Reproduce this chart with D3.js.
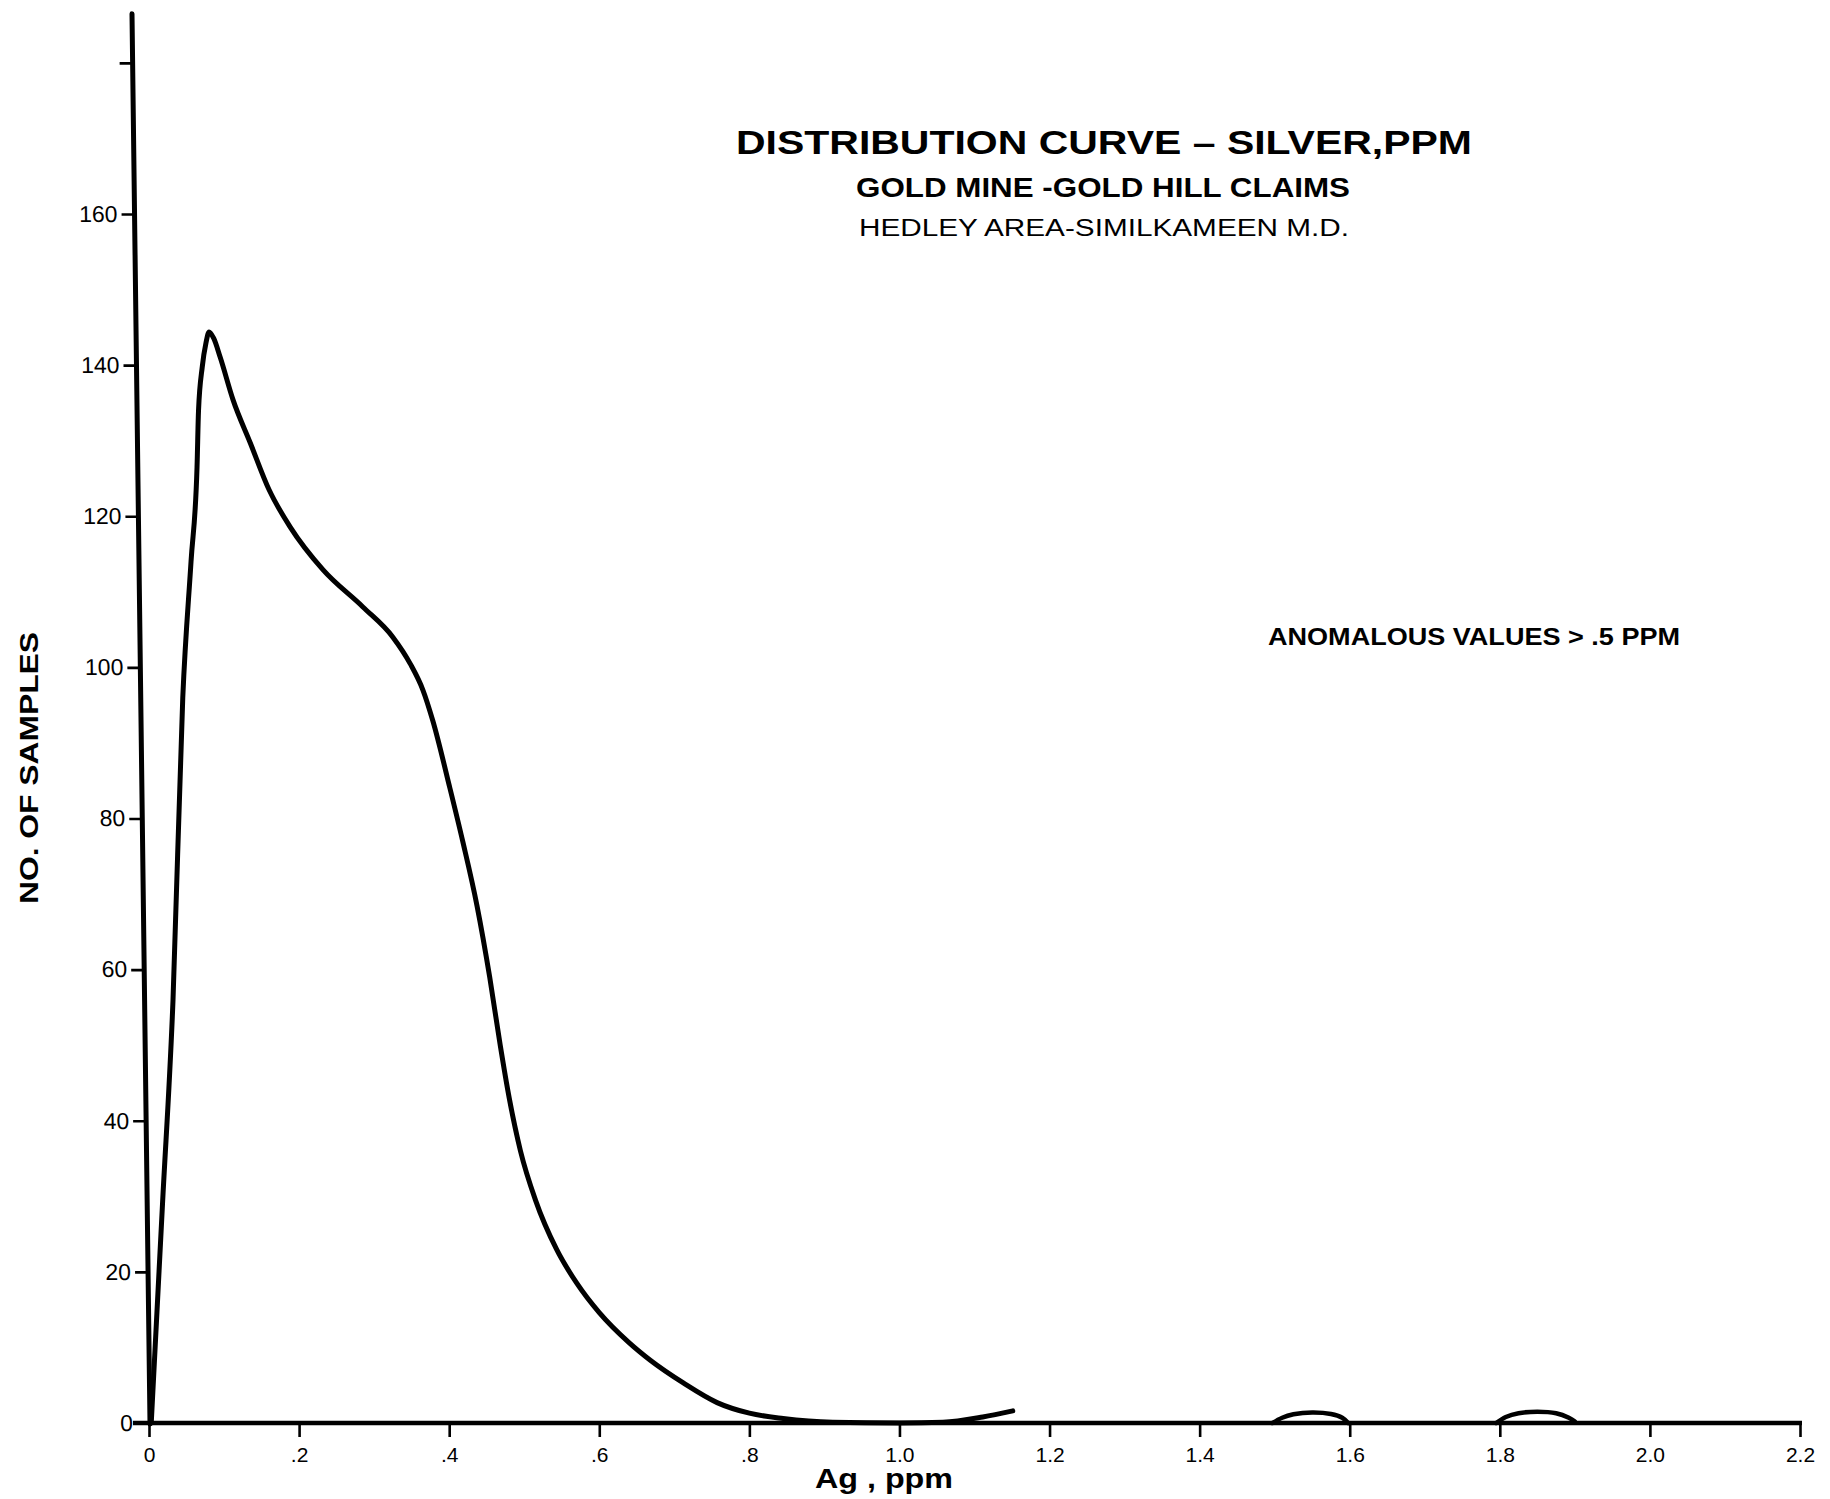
<!DOCTYPE html>
<html><head><meta charset="utf-8">
<script src="https://cdn.jsdelivr.net/npm/d3@7"></script>
<style>body{margin:0;background:#fff}svg{display:block}</style>
</head><body>
<svg id="c" width="1830" height="1499"></svg>
<script>
// ---- data ----
const xTicks = [0, 0.2, 0.4, 0.6, 0.8, 1.0, 1.2, 1.4, 1.6, 1.8, 2.0, 2.2];
const xTickLabels = ["0", ".2", ".4", ".6", ".8", "1.0", "1.2", "1.4", "1.6", "1.8", "2.0", "2.2"];
const yTicks = [0, 20, 40, 60, 80, 100, 120, 140, 160, 180];
const yTickLabels = ["0", "20", "40", "60", "80", "100", "120", "140", "160", ""];
const yAxisTop = 186.5;

// main distribution curve (Ag ppm, number of samples)
const curveAg = [0.003, 0.018, 0.032, 0.045, 0.056, 0.064, 0.066, 0.071, 0.076, 0.080,
  0.086, 0.095, 0.112, 0.135, 0.160, 0.188, 0.232, 0.285, 0.325, 0.348, 0.365, 0.378, 0.401, 0.418, 0.437, 0.454,
  0.468, 0.480, 0.495, 0.515, 0.543, 0.570, 0.600, 0.640, 0.668, 0.712, 0.757, 0.800, 0.845, 0.911, 1.000, 1.058, 1.111, 1.151];
const curveN = [0, 29, 56, 96, 114, 126.5, 134, 139.8, 143, 144.4,
  143.6, 141, 135.4, 129.7, 123.5, 118.6, 112.9, 108, 104, 100.5, 97, 93, 84, 77, 68.5, 59,
  50, 43, 36, 29.5, 23, 18.5, 14.6, 10.6, 8.3, 5.3, 2.7, 1.3, 0.6, 0.1, 0, 0.1, 0.8, 1.6];

// anomalous bumps
const bump1Ag = [1.497, 1.51, 1.525, 1.55, 1.575, 1.59, 1.598];
const bump1N = [0, 0.7, 1.15, 1.4, 1.2, 0.7, 0];
const bump2Ag = [1.795, 1.808, 1.825, 1.85, 1.875, 1.892, 1.90];
const bump2N = [0, 0.8, 1.3, 1.5, 1.3, 0.7, 0.2];

const titleLines = ["DISTRIBUTION  CURVE  –  SILVER,PPM", "GOLD MINE -GOLD HILL CLAIMS", "HEDLEY AREA-SIMILKAMEEN  M.D."];
const noteText = "ANOMALOUS VALUES  > .5 PPM";
const xLabel = "Ag , ppm";
const yLabel = "NO.  OF  SAMPLES";

// ---- drawing ----
const svg = d3.select("#c");
const font = "'Liberation Sans', Arial, sans-serif";
const x = d3.scaleLinear().domain([0, 2.2]).range([149, 1800]);
const y = d3.scaleLinear().domain([0, 160]).range([1423, 214]);

// x axis
const gx = svg.append("g").attr("transform", `translate(0,${y(0)})`)
  .call(d3.axisBottom(x).tickValues(xTicks).tickFormat((d, i) => xTickLabels[i])
    .tickSize(14).tickPadding(10).tickSizeOuter(0));
gx.select(".domain").remove();
gx.selectAll(".tick line").attr("stroke", "#000").attr("stroke-width", 2.6);
gx.selectAll(".tick text").attr("font-family", font).attr("font-size", 21).attr("fill", "#000");
gx.append("line").attr("x1", 133).attr("x2", x(2.2) + 2).attr("y1", 0).attr("y2", 0)
  .attr("stroke", "#000").attr("stroke-width", 4.5);

// y axis (slightly leaning, as drawn in the original)
const k = 18 / 1410;
const gy = svg.append("g").attr("transform", `matrix(1,0,${k},1,${150 - 1424 * k},0)`)
  .call(d3.axisLeft(y).tickValues(yTicks).tickFormat((d, i) => yTickLabels[i])
    .tickSize(13).tickPadding(4).tickSizeOuter(0));
gy.select(".domain").remove();
gy.selectAll(".tick line").attr("stroke", "#000").attr("stroke-width", 2.6);
gy.selectAll(".tick text").attr("font-family", font).attr("font-size", 23).attr("fill", "#000");
gy.append("line").attr("x1", 0).attr("x2", 0).attr("y1", y(0) + 1).attr("y2", y(yAxisTop))
  .attr("stroke", "#000").attr("stroke-width", 5).attr("stroke-linecap", "round");

// curves
const mainLine = d3.line().x(d => x(d[0])).y(d => y(d[1])).curve(d3.curveMonotoneX);
const bumpLine = d3.line().x(d => x(d[0])).y(d => y(d[1])).curve(d3.curveCatmullRom.alpha(0.5));
svg.append("path").datum(d3.zip(curveAg, curveN))
  .attr("d", mainLine).attr("fill", "none").attr("stroke", "#000").attr("stroke-width", 5)
  .attr("stroke-linecap", "round").attr("stroke-linejoin", "round");
svg.append("g").selectAll("path").data([d3.zip(bump1Ag, bump1N), d3.zip(bump2Ag, bump2N)]).join("path")
  .attr("d", bumpLine).attr("fill", "none").attr("stroke", "#000").attr("stroke-width", 4.5)
  .attr("stroke-linecap", "round").attr("stroke-linejoin", "round");

// titles
const titleSpec = [
  {x: 736, y: 154, size: 33, weight: 700, len: 736},
  {x: 856, y: 197, size: 28, weight: 700, len: 494},
  {x: 859, y: 236, size: 23, weight: 400, len: 490}
];
svg.append("g").selectAll("text").data(titleLines).join("text")
  .attr("x", (d, i) => titleSpec[i].x).attr("y", (d, i) => titleSpec[i].y)
  .attr("font-family", font).attr("font-size", (d, i) => titleSpec[i].size)
  .attr("font-weight", (d, i) => titleSpec[i].weight)
  .attr("textLength", (d, i) => titleSpec[i].len).attr("lengthAdjust", "spacingAndGlyphs")
  .attr("fill", "#000").text(d => d);

svg.append("text").attr("x", 1268).attr("y", 645).attr("font-family", font)
  .attr("font-size", 24).attr("font-weight", 700).attr("textLength", 412)
  .attr("lengthAdjust", "spacingAndGlyphs").attr("fill", "#000").text(noteText);

svg.append("text").attr("x", 815).attr("y", 1488)
  .attr("font-family", font).attr("font-size", 28).attr("font-weight", 700)
  .attr("textLength", 138).attr("lengthAdjust", "spacingAndGlyphs")
  .attr("fill", "#000").text(xLabel);

svg.append("text").attr("transform", "translate(38,768) rotate(-90)").attr("text-anchor", "middle")
  .attr("font-family", font).attr("font-size", 25).attr("font-weight", 700)
  .attr("textLength", 272).attr("lengthAdjust", "spacingAndGlyphs")
  .attr("fill", "#000").text(yLabel);
</script>
</body></html>
